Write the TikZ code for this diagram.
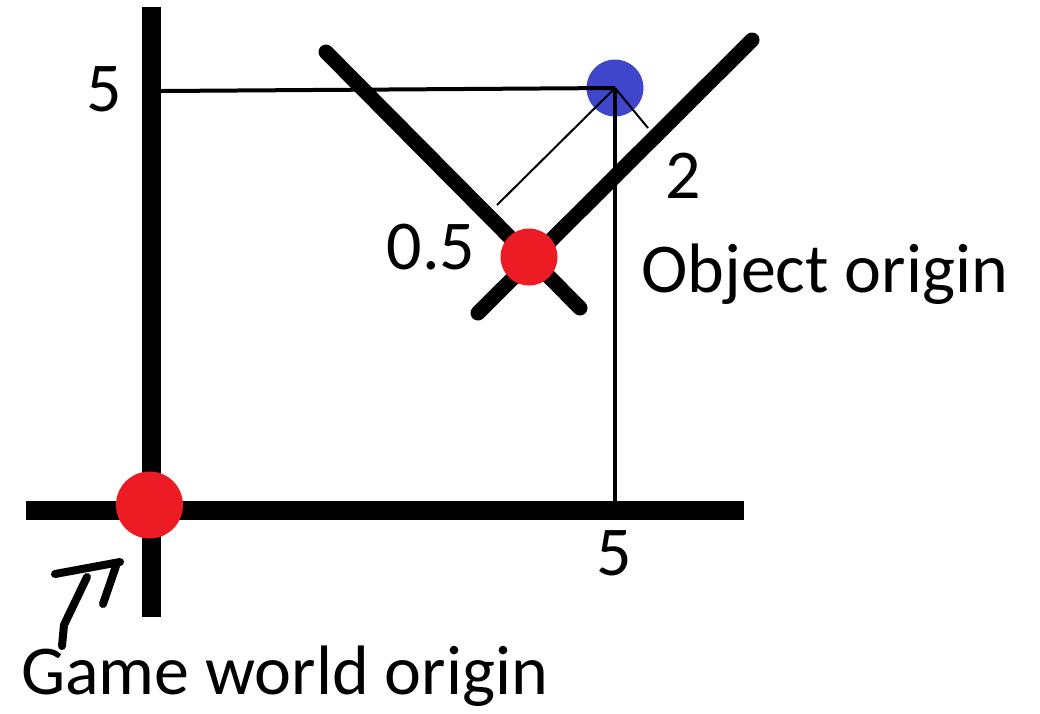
\documentclass[tikz,border=0pt]{standalone}
\usepackage{fontspec}
\setmainfont{Carlito}
\definecolor{dotred}{RGB}{237,28,36}
\definecolor{dotblue}{RGB}{64,70,204}
\begin{document}
\begin{tikzpicture}[x=1pt,y=-1pt,
  axis/.style={line width=19pt,line cap=butt},
  rotaxis/.style={line width=15pt,line cap=round},
  guide/.style={line width=4pt},
  diag/.style={line width=2pt},
  hand/.style={line width=8pt,line cap=round,line join=round},
  lbl/.style={inner sep=0pt,font=\fontsize{70}{80}\selectfont,anchor=base},
  lblw/.style={inner sep=0pt,font=\fontsize{70}{80}\selectfont,anchor=base west},
  dot/.style={circle,inner sep=0pt,draw=none}]
\useasboundingbox (0,0) rectangle (1040,713);
% axes
\coordinate (ytop) at (151.5,7);
\coordinate (ybot) at (151.5,617);
\coordinate (xl) at (26,510.5);
\coordinate (xr) at (744,510.5);
\draw[axis] (ytop) -- (ybot);
\draw[axis] (xl) -- (xr);
% rotated axes
\coordinate (aTL) at (326,52);
\coordinate (aBR) at (580,308);
\coordinate (bTR) at (752,40);
\coordinate (bBL) at (478,313);
\draw[rotaxis] (aTL) -- (aBR);
\draw[rotaxis] (bTR) -- (bBL);
% dots
\node[dot,fill=dotred,minimum size=67pt] (origin) at (149.5,505) {};
\node[dot,fill=dotred,minimum size=57pt] (objorigin) at (529,257) {};
\node[dot,fill=dotblue,minimum size=57pt] (pt) at (615,88) {};
% guides
\coordinate (yfive) at (161,91);
\coordinate (xfive) at (615,501);
\coordinate (ahalf) at (497,205);
\coordinate (btwo) at (648,128);
\draw[guide] (yfive) -- (pt.center);
\draw[guide] (pt.center) -- (xfive);
\draw[diag] (ahalf) -- (pt.center);
\draw[diag] (pt.center) -- (btwo);
% labels
\node[lbl] (l5y) at (104,111) {5};
\node[lbl] (l5x) at (614,575) {5};
\node[lbl] (lhalf) at (431,269) {0.5};
\node[lbl] (ltwo) at (683,198) {2};
\node[lblw] (lobj) at (641,292) {Object origin};
\node[lblw] (lgame) at (21,694) {Game world origin};
% hand-drawn arrow
\coordinate (hA1) at (55,574);
\coordinate (hA2) at (120,562);
\coordinate (hB1) at (116,566);
\coordinate (hB2) at (103,604);
\coordinate (hC1) at (87,577);
\coordinate (hC2) at (64,625);
\coordinate (hC3) at (62,646);
\draw[hand] (hA1) -- (hA2);
\draw[hand] (hB1) -- (hB2);
\draw[hand] (hC1) -- (hC2) -- (hC3);
\end{tikzpicture}
\end{document}
